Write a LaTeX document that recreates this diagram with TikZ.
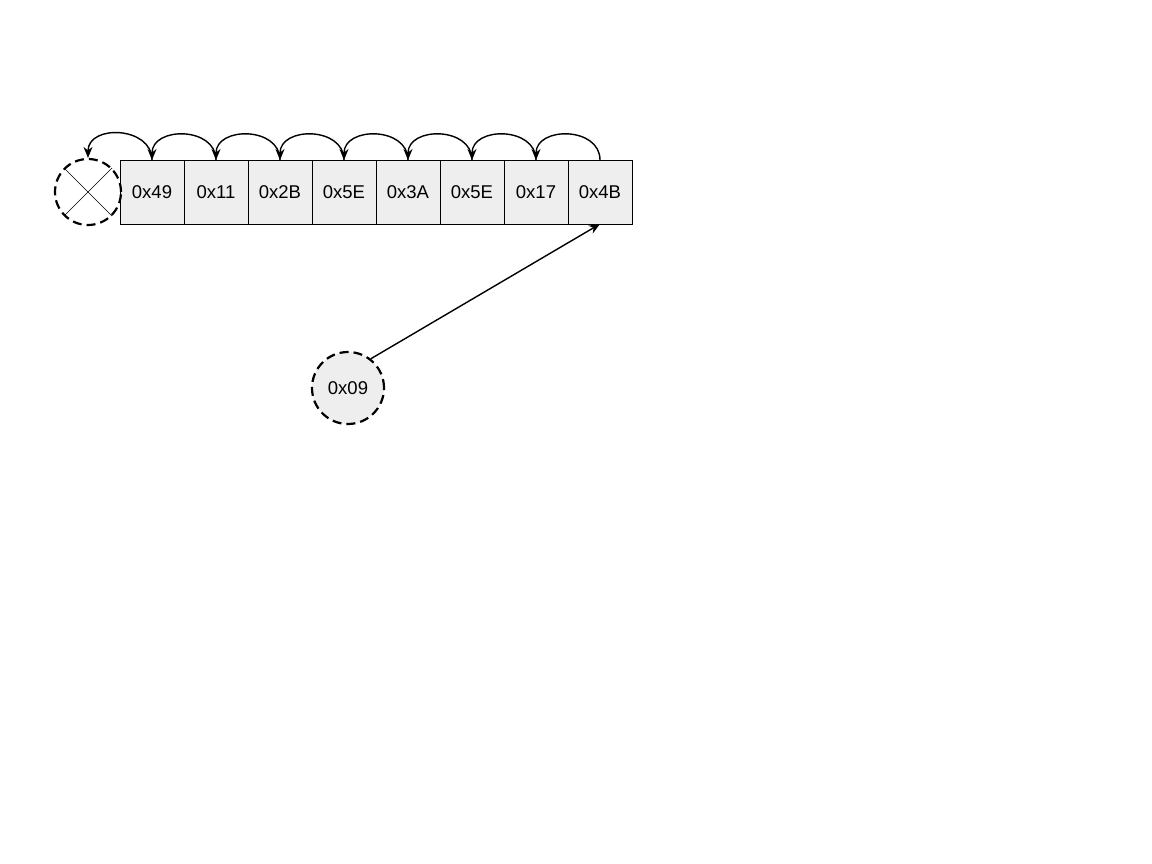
\documentclass[tikz,border=0pt]{standalone}
\usepackage{fontspec}
\setmainfont{Liberation Sans}
\usetikzlibrary{arrows.meta,positioning}
\definecolor{cellfill}{HTML}{EEEEEE}

\begin{document}
\begin{tikzpicture}[x=1pt,y=1pt,>={Stealth[length=11pt,width=9pt]},
                    font=\fontsize{18.5}{21}\selectfont,
                    cell node/.style={rectangle,draw,line width=0.8pt,fill=cellfill,
                                      minimum size=64pt,inner sep=0pt,outer sep=0pt},
                    ring node/.style={circle,draw,line width=2.2pt,
                                      dash pattern=on 9pt off 5pt,inner sep=0pt},
                    link/.style={->,line width=1.4pt,out=90,in=90,looseness=1.35}]
  \useasboundingbox (0,0) rectangle (1152,-864);
  \node[cell node] (c1) at (152,-192) {0x49};
  \foreach \val [count=\i from 2, evaluate=\i as \j using int(\i-1)] in {0x11,0x2B,0x5E,0x3A,0x5E,0x17,0x4B}
    \node[cell node,right=0pt of c\j] (c\i) {\val};
  \node[ring node,minimum size=66pt] (null) at (88,-192) {};
  \draw[line width=0.6pt] (null.north west) -- (null.south east)
                          (null.north east) -- (null.south west);
  \node[ring node,minimum size=72pt,fill=cellfill] (new) at (348,-388) {0x09};
  \foreach \i [evaluate=\i as \j using int(\i-1)] in {2,...,8}
    \draw[link] (c\i.north) to (c\j.north);
  \draw[link] (c1.north) to (null.north);
  \draw[->,line width=1.4pt] (new.52) -- (c8.south);
\end{tikzpicture}
\end{document}
